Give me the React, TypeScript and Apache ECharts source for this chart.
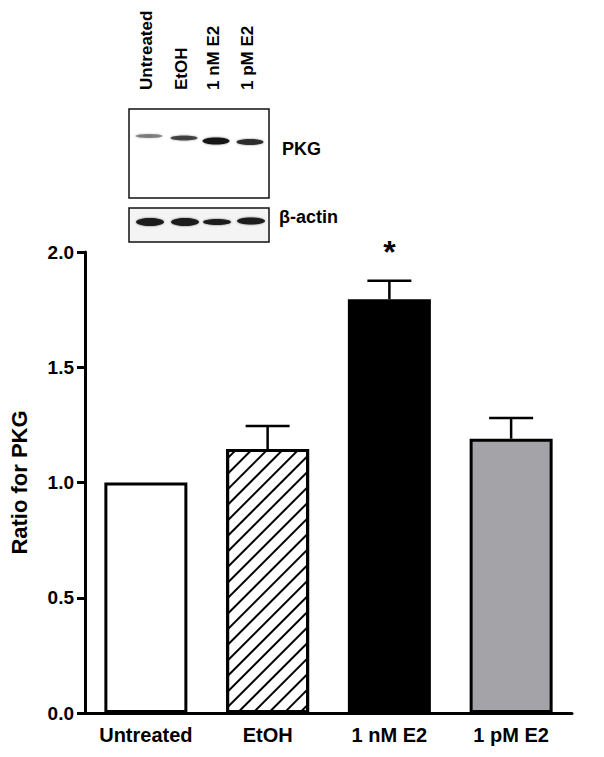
import React, { useEffect, useRef } from "react";
import * as echarts from "echarts";

const categories = ["Untreated", "EtOH", "1 nM E2", "1 pM E2"];
const means = [1.0, 1.145, 1.795, 1.19];
const sems = [0, 0.1, 0.08, 0.09];
const significance = ["", "", "*", ""];
const yTicks = [0, 0.5, 1.0, 1.5, 2.0];
const blotLanes = ["Untreated", "EtOH", "1 nM E2", "1 pM E2"];
const blotRows = ["PKG", "\u03b2-actin"];

const FONT = "Liberation Sans, Arial, sans-serif";

export default function App() {
  const ref = useRef<HTMLDivElement>(null);
  useEffect(() => {
    const chart = echarts.init(ref.current!, undefined, { renderer: "svg" });

    const laneX = [149, 184, 216, 250];
    const pkgBandY = [136, 138, 141, 142];
    const pkgAlpha = [0.45, 0.7, 1, 0.85];
    const pkgH = [3, 4, 6, 5];
    const actinY = [222, 222, 222, 221];
    const actinH = [8, 8, 6, 7];

    const graphics: any[] = [];
    blotLanes.forEach((t, i) => {
      graphics.push({
        type: "text",
        x: laneX[i] - 3,
        y: 90,
        rotation: Math.PI / 2,
        style: {
          text: t,
          font: `bold 17px ${FONT}`,
          fill: "#000",
          align: "left",
          verticalAlign: "middle",
        },
      });
    });
    graphics.push({
      type: "rect",
      shape: { x: 129, y: 109, width: 140, height: 89 },
      style: { fill: "#fff", stroke: "#111", lineWidth: 1.5 },
    });
    graphics.push({
      type: "rect",
      shape: { x: 129, y: 208, width: 140, height: 34 },
      style: { fill: "#f4f4f4", stroke: "#111", lineWidth: 1.5 },
    });
    laneX.forEach((x, i) => {
      graphics.push({
        type: "ellipse",
        shape: { cx: x, cy: pkgBandY[i], rx: 13.5, ry: pkgH[i] / 2 + 0.5 },
        style: { fill: `rgba(20,20,20,${pkgAlpha[i]})`, shadowBlur: 2, shadowColor: "rgba(0,0,0,0.5)" },
      });
      graphics.push({
        type: "ellipse",
        shape: { cx: x + 1, cy: actinY[i], rx: 14, ry: actinH[i] / 2 },
        style: { fill: "#1a1a1a", shadowBlur: 2, shadowColor: "rgba(0,0,0,0.5)" },
      });
    });
    graphics.push({
      type: "text",
      x: 282,
      y: 149,
      style: { text: blotRows[0], font: `bold 18px ${FONT}`, fill: "#000", align: "left", verticalAlign: "middle" },
    });
    graphics.push({
      type: "text",
      x: 279,
      y: 217,
      style: { text: blotRows[1], font: `bold 18px ${FONT}`, fill: "#000", align: "left", verticalAlign: "middle" },
    });

    const errData = means.map((m, i) => [i, m, sems[i]]);

    chart.setOption({
      animation: false,
      backgroundColor: "#fff",
      grid: { left: 79, right: 32, top: 252, bottom: 44, containLabel: false },
      xAxis: {
        type: "category",
        data: categories,
        boundaryGap: true,
        axisLine: { lineStyle: { color: "#000", width: 3 } },
        axisTick: { alignWithLabel: true, length: 7, lineStyle: { color: "#000", width: 3 } },
        axisLabel: { color: "#000", fontFamily: FONT, fontWeight: "bold", fontSize: 20, margin: 12 },
      },
      yAxis: {
        type: "value",
        min: yTicks[0],
        max: yTicks[yTicks.length - 1],
        interval: 0.5,
        name: "Ratio for PKG",
        nameLocation: "middle",
        nameGap: 55,
        nameTextStyle: { color: "#000", fontFamily: FONT, fontWeight: "bold", fontSize: 22 },
        axisLine: { show: true, lineStyle: { color: "#000", width: 3 } },
        axisTick: { show: true, length: 8, lineStyle: { color: "#000", width: 3 } },
        splitLine: { show: false },
        axisLabel: {
          color: "#000",
          fontFamily: FONT,
          fontWeight: "bold",
          fontSize: 19,
          margin: 11,
          formatter: (v: number) => v.toFixed(1),
        },
      },
      series: [
        {
          type: "bar",
          barWidth: 83,
          data: means.map((m, i) => {
            const base: any = { value: m };
            const fills = ["#ffffff", "#ffffff", "#000000", "#a3a3a8"];
            base.itemStyle = { color: fills[i], borderColor: "#000", borderWidth: 3 };
            if (i === 1) {
              base.itemStyle.decal = {
                symbol: "rect",
                symbolSize: 1,
                color: "#000",
                dashArrayX: [1, 0],
                dashArrayY: [2, 8.5],
                rotation: -Math.PI / 4,
              };
            }
            return base;
          }),
          z: 2,
        },
        {
          type: "custom",
          data: errData,
          z: 3,
          renderItem: (params: any, api: any) => {
            const idx = api.value(0);
            const m = api.value(1);
            const e = api.value(2);
            const children: any[] = [];
            const top = api.coord([idx, m]);
            if (e > 0) {
              const hi = api.coord([idx, m + e]);
              children.push({
                type: "line",
                shape: { x1: top[0], y1: top[1], x2: hi[0], y2: hi[1] },
                style: { stroke: "#000", lineWidth: 2.5 },
              });
              children.push({
                type: "line",
                shape: { x1: hi[0] - 22, y1: hi[1], x2: hi[0] + 22, y2: hi[1] },
                style: { stroke: "#000", lineWidth: 2.5 },
              });
            }
            const sig = significance[params.dataIndex];
            if (sig) {
              const hi = api.coord([idx, m + e]);
              children.push({
                type: "text",
                x: hi[0],
                y: hi[1] - 29,
                style: {
                  text: sig,
                  font: `bold 32px ${FONT}`,
                  fill: "#000",
                  align: "center",
                  verticalAlign: "middle",
                },
              });
            }
            return { type: "group", children };
          },
        },
      ],
      graphic: graphics,
    });
    return () => chart.dispose();
  }, []);
  return <div ref={ref} style={{ width: 604, height: 757, position: "absolute", left: 0, top: 0 }} />;
}
